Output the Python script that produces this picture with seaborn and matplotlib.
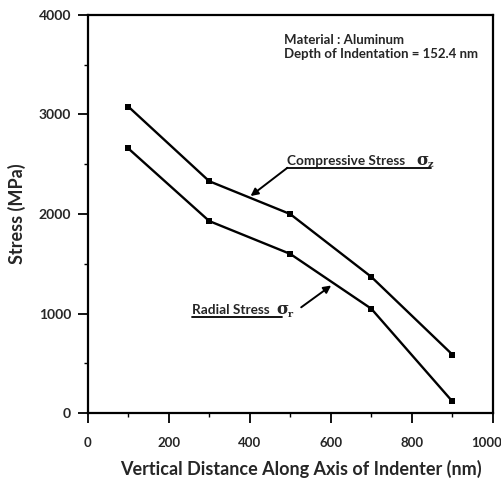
import matplotlib
matplotlib.use("Agg")
import matplotlib.pyplot as plt
from matplotlib.transforms import ScaledTranslation
import seaborn as sns
import pandas as pd

# Stress along the indenter axis (aluminum, 152.4 nm indentation depth)
distance_nm = [100, 300, 500, 700, 900]
compressive_stress = [3080, 2330, 2000, 1370, 590]
radial_stress = [2660, 1930, 1600, 1050, 120]

x_ticks = [0, 200, 400, 600, 800, 1000]
y_ticks = [0, 1000, 2000, 3000, 4000]

df = pd.DataFrame({
    "distance": distance_nm * 2,
    "stress": compressive_stress + radial_stress,
    "series": ["Compressive"] * len(distance_nm) + ["Radial"] * len(distance_nm),
})

sns.set_style("ticks")
plt.rcParams["font.family"] = ["Lato", "DejaVu Sans"]
plt.rcParams["font.weight"] = "bold"

fig = plt.figure(figsize=(5.02, 4.80), dpi=100)
ax = fig.add_axes([0.1747, 0.139, 0.807, 0.830])

sns.lineplot(
    data=df, x="distance", y="stress", hue="series",
    palette={"Compressive": "black", "Radial": "black"},
    marker="s", markersize=3.8, markeredgewidth=0, linewidth=1.7,
    legend=False, ax=ax,
)

ax.set_xlim(0, 1000)
ax.set_ylim(0, 4000)
ax.set_xticks(x_ticks)
ax.set_yticks(y_ticks)
ax.set_xticks([100, 300, 500, 700, 900], minor=True)
ax.set_yticks([500, 1500, 2500, 3500], minor=True)
ax.tick_params(axis="both", which="major", length=7, width=1.3, color="black")
ax.tick_params(axis="x", which="major", pad=10, labelsize=9.5)
ax.tick_params(axis="y", which="major", pad=5, labelsize=10)
ax.tick_params(axis="both", which="minor", length=3, width=1.0, color="black")
for lab in ax.get_xticklabels() + ax.get_yticklabels():
    lab.set_fontweight("bold")
# nudge the last x tick label inward so it stays on the canvas
last = ax.get_xticklabels()[-1]
last.set_transform(last.get_transform() + ScaledTranslation(-6 / 100, 0, fig.dpi_scale_trans))

for side in ["left", "bottom", "top", "right"]:
    ax.spines[side].set_visible(True)
    ax.spines[side].set_linewidth(1.6)
    ax.spines[side].set_color("black")

ax.set_xlabel("Vertical Distance Along Axis of Indenter (nm)", fontsize=13,
              fontweight="bold")
ax.set_ylabel("Stress (MPa)", fontsize=13, fontweight="bold")
ax.xaxis.set_label_coords(0.527, -0.118)
ax.yaxis.set_label_coords(-0.152, 0.5)

ax.text(485, 3745, "Material : Aluminum", fontsize=9.5, fontweight="bold",
        va="center", ha="left")
ax.text(485, 3610, "Depth of Indentation = 152.4 nm", fontsize=9.5,
        fontweight="bold", va="center", ha="left")

serif = ["DejaVu Serif"]

# Compressive stress annotation
ax.text(493, 2495, "Compressive Stress", fontsize=9.8, fontweight="bold",
        va="baseline", ha="left")
ax.text(812, 2495, "σ", fontsize=12, family=serif, va="baseline", ha="left")
ax.text(840, 2470, "z", fontsize=7, family=serif, fontweight="bold",
        va="baseline", ha="left")
ax.plot([493, 848], [2465, 2465], color="black", linewidth=1.3)
ax.annotate("", xy=(402, 2181), xytext=(493, 2465),
            arrowprops=dict(arrowstyle="-|>", color="black", lw=1.4,
                            mutation_scale=11, shrinkA=0, shrinkB=0))

# Radial stress annotation
ax.text(257, 995, "Radial Stress", fontsize=9.8, fontweight="bold",
        va="baseline", ha="left")
ax.text(466, 995, "σ", fontsize=12, family=serif, va="baseline", ha="left")
ax.text(494, 968, "r", fontsize=7, family=serif, fontweight="bold",
        va="baseline", ha="left")
ax.plot([257, 480], [965, 965], color="black", linewidth=1.3)
ax.annotate("", xy=(601, 1283), xytext=(527, 1064),
            arrowprops=dict(arrowstyle="-|>", color="black", lw=1.4,
                            mutation_scale=11, shrinkA=0, shrinkB=0))

fig.savefig("out.png", dpi=100)
